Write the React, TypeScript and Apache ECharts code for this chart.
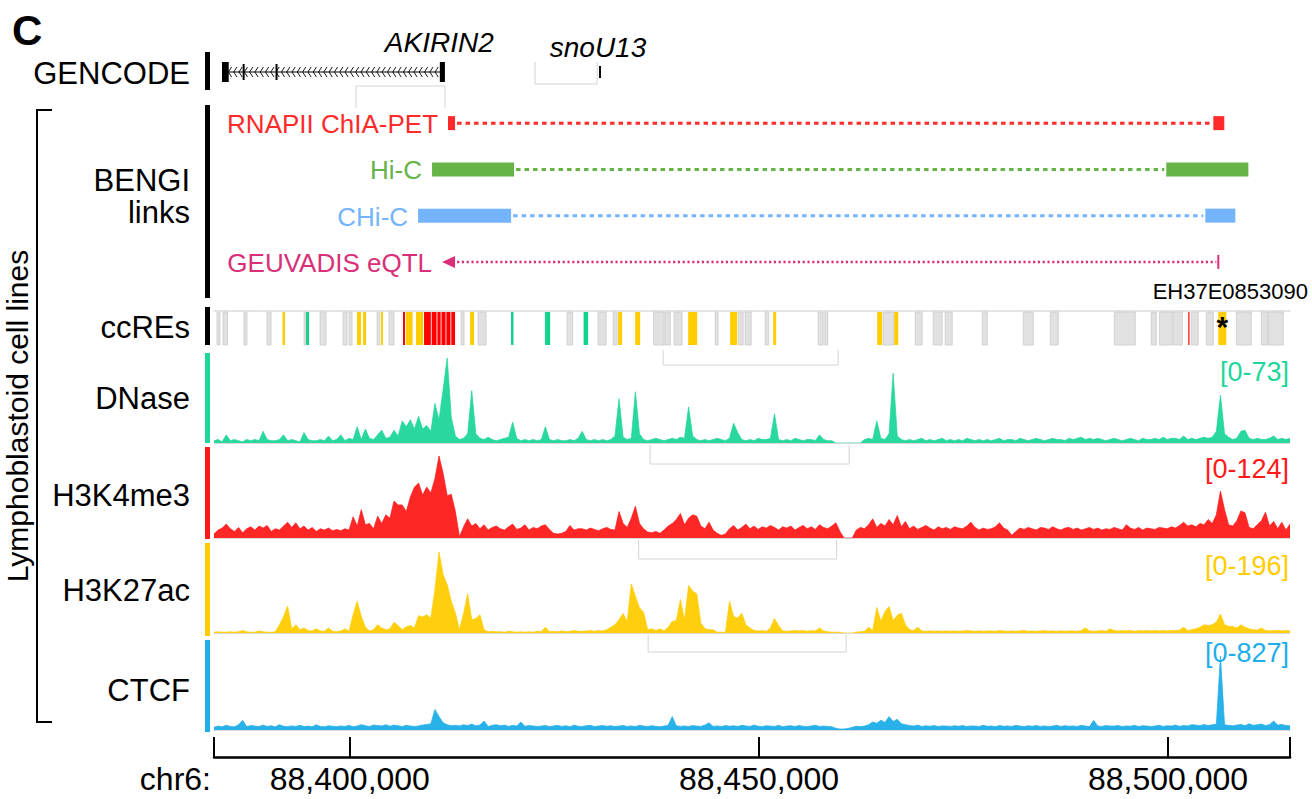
import React, { useEffect, useRef } from "react";
import * as echarts from "echarts";

const FONT = '"Liberation Sans", "Helvetica Neue", Arial, sans-serif';

// Visible window on chr6, in kilobases
const VIEW_START = 88383.4;
const VIEW_END = 88514.9;
const BIN_KB = 0.5;
const AXIS_TICKS_KB = [88400, 88450, 88500];

// Signal tracks (0.5 kb bins starting at VIEW_START)
const trackNames = ["DNase", "H3K4me3", "H3K27ac", "CTCF"];
const trackMax = [73, 124, 196, 827];
const trackColors = ["#1ed699", "#ff1a1a", "#ffcc00", "#1eaee8"];

const dnase = [
  2, 3, 1, 7, 2, 3, 2, 1, 3, 2,
  3, 2, 10, 3, 2, 2, 3, 7, 2, 3,
  2, 1, 9, 3, 2, 2, 3, 2, 6, 2,
  3, 7, 2, 4, 3, 14, 3, 12, 4, 3,
  7, 11, 4, 5, 11, 6, 19, 14, 20, 12,
  23, 12, 15, 10, 34, 20, 46, 73, 22, 6,
  3, 4, 8, 45, 8, 4, 3, 5, 3, 2,
  3, 4, 5, 18, 4, 2, 3, 2, 3, 2,
  3, 14, 3, 2, 3, 2, 2, 3, 2, 4,
  10, 3, 2, 3, 2, 3, 2, 3, 6, 38,
  5, 3, 4, 44, 8, 3, 2, 3, 4, 3,
  2, 3, 4, 3, 5, 4, 31, 6, 3, 2,
  3, 2, 3, 4, 3, 2, 4, 17, 9, 3,
  2, 3, 2, 4, 3, 3, 4, 25, 3, 2,
  3, 2, 4, 3, 2, 3, 3, 2, 7, 3,
  2, 2, 0, 0, 0, 0, 0, 0, 0, 3,
  4, 3, 19, 4, 3, 8, 60, 6, 3, 2,
  3, 2, 3, 4, 2, 3, 2, 3, 4, 2,
  3, 2, 3, 2, 4, 3, 2, 3, 2, 3,
  2, 3, 4, 2, 3, 3, 2, 4, 3, 2,
  3, 4, 3, 2, 3, 4, 3, 3, 2, 4,
  3, 4, 5, 3, 4, 3, 4, 3, 2, 3,
  4, 3, 2, 3, 4, 3, 2, 4, 3, 3,
  4, 3, 5, 3, 4, 4, 3, 6, 3, 4,
  3, 4, 5, 4, 5, 10, 41, 8, 5, 3,
  4, 10, 11, 4, 3, 4, 3, 3, 4, 6,
  3, 4, 3, 4,
];

const h3k4me3 = [
  6, 12, 15, 21, 14, 10, 16, 8, 14, 17,
  12, 18, 15, 19, 10, 14, 12, 18, 24, 16,
  23, 14, 18, 12, 16, 10, 14, 12, 15, 11,
  13, 11, 14, 12, 32, 18, 43, 20, 22, 14,
  33, 22, 35, 30, 56, 50, 50, 40, 62, 77,
  83, 65, 77, 68, 90, 124, 98, 64, 66, 40,
  2, 17, 29, 18, 22, 14, 20, 12, 16, 18,
  14, 12, 17, 21, 13, 15, 20, 12, 16, 14,
  18, 20, 13, 7, 6, 7, 10, 19, 12, 14,
  14, 12, 15, 13, 11, 14, 16, 13, 12, 40,
  22, 16, 30, 48, 22, 14, 9, 8, 10, 7,
  12, 18, 22, 28, 37, 20, 30, 35, 33, 18,
  14, 24, 12, 7, 4, 6, 14, 19, 12, 16,
  21, 14, 18, 13, 17, 15, 19, 16, 12, 17,
  15, 18, 12, 16, 19, 14, 17, 13, 20, 16,
  14, 18, 23, 10, 0, 0, 0, 12, 16, 14,
  20, 29, 16, 22, 18, 28, 20, 34, 17, 25,
  14, 18, 13, 16, 19, 15, 12, 17, 14, 16,
  13, 17, 15, 14, 18, 24, 16, 12, 15, 13,
  14, 17, 23, 15, 12, 4, 10, 15, 13, 16,
  14, 12, 16, 15, 13, 17, 14, 12, 15, 16,
  13, 15, 12, 14, 16, 13, 15, 12, 14, 13,
  16, 14, 12, 20, 15, 13, 16, 12, 15, 14,
  13, 16, 15, 14, 17, 15, 19, 24, 18, 20,
  17, 22, 20, 28, 22, 35, 71, 43, 20, 18,
  26, 41, 38, 16, 14, 20, 26, 39, 18, 25,
  14, 24, 12, 21,
];

const h3k27ac = [
  2, 3, 2, 2, 3, 2, 3, 6, 3, 2,
  2, 5, 3, 2, 2, 3, 20, 40, 65, 10,
  20, 8, 12, 6, 5, 10, 5, 4, 12, 4,
  3, 5, 10, 4, 44, 77, 40, 14, 5, 8,
  20, 12, 8, 10, 26, 18, 8, 15, 18, 12,
  42, 39, 44, 36, 105, 196, 141, 117, 77, 48,
  8, 47, 95, 32, 35, 44, 8, 3, 4, 3,
  3, 2, 4, 3, 2, 3, 2, 3, 2, 4,
  3, 14, 3, 4, 3, 5, 3, 4, 6, 4,
  4, 5, 6, 4, 6, 5, 8, 14, 20, 32,
  47, 28, 119, 89, 61, 50, 8, 10, 6, 10,
  5, 14, 28, 30, 81, 31, 115, 101, 95, 24,
  10, 8, 8, 2, 2, 2, 77, 40, 36, 48,
  20, 12, 6, 5, 6, 4, 12, 35, 18, 5,
  4, 5, 6, 5, 6, 4, 6, 5, 12, 5,
  3, 2, 2, 2, 0, 0, 0, 2, 3, 4,
  14, 6, 62, 28, 52, 64, 30, 43, 48, 20,
  8, 6, 14, 5, 4, 5, 4, 5, 4, 5,
  4, 5, 4, 5, 6, 5, 4, 5, 4, 5,
  5, 4, 6, 5, 4, 5, 4, 5, 6, 4,
  5, 4, 5, 6, 4, 5, 4, 5, 4, 5,
  5, 4, 6, 12, 5, 4, 5, 6, 4, 10,
  6, 5, 6, 5, 6, 4, 6, 5, 6, 5,
  6, 5, 6, 5, 6, 6, 7, 14, 6, 8,
  10, 14, 20, 18, 20, 26, 46, 20, 16, 16,
  12, 20, 14, 10, 8, 7, 12, 6, 5, 6,
  6, 5, 6, 5,
];

const ctcf = [
  30, 45, 36, 52, 40, 35, 60, 108, 38, 50,
  44, 38, 55, 40, 48, 36, 60, 42, 38, 46,
  40, 52, 38, 44, 36, 58, 40, 35, 48, 42,
  38, 46, 40, 52, 36, 44, 60, 48, 40, 55,
  50, 45, 60, 42, 55, 48, 38, 52, 44, 40,
  46, 55, 62, 70, 230, 150, 80, 60, 48, 52,
  45, 58, 50, 66, 48, 55, 100, 40, 52, 60,
  48, 55, 40, 52, 44, 90, 42, 50, 46, 38,
  44, 50, 38, 46, 52, 40, 48, 36, 55, 42,
  40, 48, 52, 38, 45, 50, 42, 48, 38, 44,
  50, 40, 46, 38, 52, 44, 40, 48, 42, 36,
  44, 52, 150, 48, 40, 46, 38, 50, 44, 40,
  55, 80, 40, 46, 38, 50, 42, 48, 40, 52,
  46, 40, 55, 42, 38, 48, 44, 40, 52, 36,
  44, 48, 40, 50, 42, 38, 46, 52, 40, 44,
  40, 36, 20, 10, 12, 18, 30, 42, 38, 44,
  60, 90, 75, 110, 85, 150, 95, 120, 70, 60,
  50, 44, 55, 40, 48, 42, 50, 38, 46, 44,
  40, 48, 42, 50, 38, 46, 44, 40, 52, 42,
  44, 38, 50, 42, 46, 40, 52, 44, 38, 48,
  42, 50, 40, 46, 38, 44, 52, 40, 48, 42,
  46, 40, 52, 44, 38, 108, 46, 40, 50, 44,
  44, 50, 38, 46, 42, 52, 40, 48, 44, 38,
  46, 52, 40, 48, 44, 55, 42, 50, 46, 60,
  55, 48, 62, 50, 58, 66, 827, 60, 52, 48,
  55, 62, 48, 70, 52, 58, 66, 50, 60, 100,
  55, 62, 50, 48,
];

const signals = [dnase, h3k4me3, h3k27ac, ctcf];

// GENCODE gene models (kb)
const geneName = "AKIRIN2";
const geneSpan = [88384.5, 88411.55];
const geneExons = [
  [88384.38, 88385.2],
  [88386.9, 88387.1],
  [88390.92, 88391.12],
  [88411.0, 88411.62],
];
const snoName = "snoU13";
const snoSpan = [88430.45, 88430.62];

// BENGI links: anchor near the gene, anchor at the enhancer
const linkNames = ["RNAPII ChIA-PET", "Hi-C", "CHi-C", "GEUVADIS eQTL"];
const linkColors = ["#ff2b2b", "#66b347", "#74b4fd", "#d82f78"];
const linkA = [
  [88412.0, 88412.86],
  [88410.05, 88420.07],
  [88408.34, 88419.71],
  [88411.27, 88411.27],
];
const linkB = [
  [88505.53, 88506.87],
  [88499.78, 88509.81],
  [88504.55, 88508.22],
  [88506.14, 88506.14],
];

// ccREs: start kb, end kb, class (0 other, 1 enhancer-like, 2 CTCF-only, 3 promoter-like)
const ccreColors = ["#e1e1e1", "#ffcd00", "#12d28c", "#ff0000"];
const ccres = [
  [88383.77, 88384.13, 0], [88384.5, 88385.05, 0], [88387.07, 88387.43, 0],
  [88389.88, 88390.37, 0], [88391.77, 88392.08, 1], [88394.4, 88394.65, 0],
  [88394.65, 88395.01, 2], [88396.36, 88397.09, 0], [88399.17, 88399.66, 0],
  [88399.9, 88400.27, 0], [88400.88, 88401.37, 1], [88401.62, 88401.98, 1],
  [88403.33, 88403.69, 0], [88403.82, 88404.06, 1], [88404.79, 88405.4, 0],
  [88406.5, 88406.75, 3], [88406.87, 88407.67, 1], [88408.09, 88408.95, 1],
  [88409.07, 88409.9, 3], [88410.0, 88410.6, 3], [88410.7, 88411.1, 3],
  [88411.2, 88411.7, 3], [88411.8, 88412.3, 3], [88412.4, 88412.86, 3],
  [88413.6, 88413.96, 0], [88414.7, 88415.18, 1], [88415.67, 88416.65, 0],
  [88419.7, 88420.0, 2], [88423.86, 88424.48, 2], [88426.55, 88427.23, 0],
  [88428.57, 88429.12, 2], [88430.34, 88431.32, 0], [88432.18, 88432.67, 0],
  [88432.79, 88433.28, 1], [88434.87, 88435.48, 1], [88437.13, 88438.41, 0],
  [88438.53, 88439.15, 0], [88439.63, 88440.61, 0], [88441.35, 88442.45, 1],
  [88444.65, 88445.01, 0], [88446.48, 88447.34, 1], [88447.52, 88448.07, 0],
  [88448.31, 88449.05, 0], [88450.76, 88451.19, 0], [88451.74, 88452.1, 1],
  [88457.24, 88457.85, 0], [88458.05, 88458.4, 0], [88464.45, 88465.06, 1],
  [88465.18, 88466.48, 0], [88466.53, 88467.02, 1], [88469.1, 88469.95, 0],
  [88471.3, 88472.4, 0], [88472.76, 88473.62, 0], [88477.29, 88477.9, 0],
  [88482.3, 88483.52, 0], [88485.6, 88486.58, 0], [88493.42, 88495.99, 0],
  [88497.95, 88498.56, 0], [88498.93, 88500.51, 0], [88500.64, 88501.74, 0],
  [88502.47, 88502.59, 3], [88502.84, 88503.69, 0], [88504.67, 88505.53, 0],
  [88506.14, 88507.12, 1], [88508.34, 88510.17, 0], [88511.4, 88512.13, 0],
  [88512.25, 88514.08, 0],
];
const linkedCcreId = "EH37E0853090";
const linkedCcreKb = 88506.63;

// Label-placement guides left by the browser (kb spans)
const guideSpans = [
  [88400.76, 88411.64],
  [88422.64, 88430.22],
  [88438.29, 88459.68],
  [88436.7, 88461.03],
  [88435.3, 88459.5],
  [88436.46, 88460.66],
];
const guideRows = [
  { y0: 86, y1: 108, open: "bottom" },
  { y0: 62, y1: 84, open: "top" },
  { y0: 350, y1: 365, open: "top" },
  { y0: 445, y1: 464, open: "top" },
  { y0: 540, y1: 559, open: "top" },
  { y0: 635, y1: 652, open: "top" },
];

const GRID_LAYOUT = [
  { top: 50, height: 50 }, // GENCODE
  { top: 100, height: 185 }, // BENGI links
  { top: 311, height: 34 }, // ccREs
  { top: 358, height: 85 }, // DNase
  { top: 456, height: 82 }, // H3K4me3
  { top: 552, height: 81 }, // H3K27ac
  { top: 656, height: 74 }, // CTCF
  { top: 727, height: 30 }, // coordinate ruler
];

const sideBars = [
  { y0: 52, y1: 90, color: "#000" },
  { y0: 105, y1: 298, color: "#000" },
  { y0: 307, y1: 345, color: "#000" },
  { y0: 353, y1: 443, color: trackColors[0] },
  { y0: 447, y1: 539, color: trackColors[1] },
  { y0: 543, y1: 636, color: trackColors[2] },
  { y0: 640, y1: 732, color: trackColors[3] },
];

const rowLabels = [
  { text: "GENCODE", y: 73 },
  { text: "BENGI", y: 180 },
  { text: "links", y: 212 },
  { text: "ccREs", y: 327 },
  { text: trackNames[0], y: 398 },
  { text: trackNames[1], y: 495 },
  { text: trackNames[2], y: 590 },
  { text: trackNames[3], y: 690 },
];
const rangeLabelY = [372, 469, 566, 653];

function formatBp(kb: number) {
  return Math.round(kb * 1000).toLocaleString("en-US");
}

function buildOption(): any {
  const grid = GRID_LAYOUT.map((g) => ({ ...g, left: 214, right: 22 }));

  const xAxis = GRID_LAYOUT.map((_, i) => {
    const ax: any = {
      gridIndex: i,
      type: "value",
      min: VIEW_START,
      max: VIEW_END,
      splitLine: { show: false },
      axisTick: { show: false },
      axisLabel: { show: false },
      axisLine: { show: false },
    };
    if (i === 2) {
      ax.position = "top";
      ax.axisLine = { show: true, onZero: false, lineStyle: { color: "#dcdcdc", width: 1.5 } };
    }
    if (i >= 3 && i <= 6) {
      ax.axisLine = { show: true, onZero: false, lineStyle: { color: "#dadada", width: 1 } };
    }
    if (i === 7) {
      ax.position = "bottom";
      ax.axisLine = { show: true, onZero: false, lineStyle: { color: "#000", width: 2.5 } };
      ax.axisTick = {
        show: true,
        inside: true,
        length: 20,
        lineStyle: { color: "#000", width: 2 },
        customValues: [VIEW_START, ...AXIS_TICKS_KB, VIEW_END],
      };
      ax.axisLabel = {
        show: true,
        customValues: AXIS_TICKS_KB,
        formatter: (v: number) => formatBp(v),
        fontSize: 32,
        fontFamily: FONT,
        color: "#000",
        margin: 6,
      };
    }
    return ax;
  });

  const yAxis = GRID_LAYOUT.map((_, i) => {
    if (i === 1) return { gridIndex: 1, type: "category", data: linkNames, inverse: true, show: false };
    if (i >= 3 && i <= 6) return { gridIndex: i, type: "value", min: 0, max: trackMax[i - 3], show: false };
    return { gridIndex: i, type: "value", min: 0, max: 1, show: false };
  });

  const series: any[] = [];

  // Gene models
  series.push({
    type: "custom",
    xAxisIndex: 0,
    yAxisIndex: 0,
    silent: true,
    data: [[geneSpan[0], 0.5]],
    renderItem: (_p: any, api: any) => {
      const px = (kb: number) => api.coord([kb, 0])[0];
      const y = 72;
      const x0 = px(geneSpan[0]);
      const x1 = px(geneSpan[1]);
      const children: any[] = [
        { type: "line", shape: { x1: x0, y1: y, x2: x1, y2: y }, style: { stroke: "#000", lineWidth: 1.2 } },
      ];
      for (let cx = x0 + 6; cx < x1 - 4; cx += 5.3) {
        children.push({
          type: "polyline",
          shape: { points: [[cx + 2.6, y - 5], [cx - 0.6, y], [cx + 2.6, y + 5]] },
          style: { stroke: "#000", fill: "none", lineWidth: 0.9 },
        });
      }
      geneExons.forEach(([s, e]) => {
        const a = px(s);
        const w = Math.max(px(e) - a, 2);
        const tall = w > 3;
        children.push({
          type: "rect",
          shape: { x: a, y: tall ? 62 : 64, width: w, height: tall ? 20 : 16 },
          style: { fill: "#000" },
        });
      });
      const sx = px(snoSpan[0]);
      children.push({
        type: "rect",
        shape: { x: sx, y: 66, width: Math.max(px(snoSpan[1]) - sx, 2), height: 12 },
        style: { fill: "#000" },
      });
      children.push({
        type: "text",
        x: x1 - 5,
        y: 42,
        style: { text: geneName, fill: "#000", fontSize: 28, fontStyle: "italic", fontFamily: FONT, textAlign: "center", textVerticalAlign: "middle" },
      });
      children.push({
        type: "text",
        x: sx - 1,
        y: 47,
        style: { text: snoName, fill: "#000", fontSize: 28, fontStyle: "italic", fontFamily: FONT, textAlign: "center", textVerticalAlign: "middle" },
      });
      return { type: "group", children };
    },
  });

  // Guides
  series.push({
    type: "custom",
    xAxisIndex: 0,
    yAxisIndex: 0,
    silent: true,
    z: 1,
    data: guideSpans.map((s) => [s[0], 0.5]),
    renderItem: (p: any, api: any) => {
      const [s, e] = guideSpans[p.dataIndex];
      const row = guideRows[p.dataIndex];
      const a = api.coord([s, 0])[0];
      const b = api.coord([e, 0])[0];
      const flat = row.open === "top" ? row.y1 : row.y0;
      const tip = row.open === "top" ? row.y0 : row.y1;
      return {
        type: "polyline",
        shape: { points: [[a, tip], [a, flat], [b, flat], [b, tip]] },
        style: { stroke: "#d4d4d4", fill: "none", lineWidth: 1 },
      };
    },
  });

  // BENGI links
  series.push({
    type: "custom",
    xAxisIndex: 1,
    yAxisIndex: 1,
    silent: true,
    data: linkNames.map((_, i) => [linkA[i][0], i]),
    renderItem: (p: any, api: any) => {
      const i = p.dataIndex;
      const color = linkColors[i];
      const y = api.coord([linkA[i][0], i])[1];
      const px = (kb: number) => api.coord([kb, i])[0];
      const a0 = px(linkA[i][0]);
      const a1 = px(linkA[i][1]);
      const b0 = px(linkB[i][0]);
      const b1 = px(linkB[i][1]);
      const children: any[] = [];
      const isEqtl = linkA[i][0] === linkA[i][1];
      if (!isEqtl) {
        children.push({ type: "rect", shape: { x: a0, y: y - 7, width: Math.max(a1 - a0, 6), height: 14 }, style: { fill: color } });
        children.push({ type: "rect", shape: { x: b0, y: y - 7, width: Math.max(b1 - b0, 6), height: 14 }, style: { fill: color } });
        children.push({
          type: "line",
          shape: { x1: Math.max(a1, a0 + 6) + 2, y1: y, x2: b0 - 2, y2: y },
          style: { stroke: color, lineWidth: 3, lineDash: [4.5, 4] },
        });
      } else {
        children.push({
          type: "polygon",
          shape: { points: [[a0, y], [a0 + 13, y - 6], [a0 + 13, y + 6]] },
          style: { fill: color },
        });
        children.push({
          type: "line",
          shape: { x1: a0 + 15, y1: y, x2: b0 - 2, y2: y },
          style: { stroke: color, lineWidth: 2.5, lineDash: [2.2, 2.6] },
        });
        children.push({ type: "line", shape: { x1: b0, y1: y - 7, x2: b0, y2: y + 7 }, style: { stroke: color, lineWidth: 2 } });
      }
      children.push({
        type: "text",
        x: a0 - 10,
        y: y + 1,
        style: { text: linkNames[i], fill: color, fontSize: 26, fontFamily: FONT, textAlign: "right", textVerticalAlign: "middle" },
      });
      return { type: "group", children };
    },
  });

  // ccREs
  series.push({
    type: "custom",
    xAxisIndex: 2,
    yAxisIndex: 2,
    silent: true,
    data: ccres.map((c) => [c[0], 0.5]),
    renderItem: (p: any, api: any) => {
      const [s, e, t] = ccres[p.dataIndex];
      const cs = p.coordSys;
      const a = api.coord([s, 0])[0];
      const b = api.coord([e, 0])[0];
      return {
        type: "rect",
        shape: { x: a, y: cs.y + 1, width: Math.max(b - a, 1.2), height: cs.height - 1 },
        style: t === 0 ? { fill: ccreColors[t], stroke: "#cbcbcb", lineWidth: 0.8 } : { fill: ccreColors[t] },
      };
    },
  });

  // Linked ccRE marker
  series.push({
    type: "custom",
    xAxisIndex: 2,
    yAxisIndex: 2,
    silent: true,
    z: 5,
    data: [[linkedCcreKb, 0.5]],
    renderItem: (_p: any, api: any) => {
      const x = api.coord([linkedCcreKb, 0])[0];
      return {
        type: "group",
        children: [
          { type: "text", x, y: 326, style: { text: "*", fill: "#000", fontSize: 30, fontWeight: "bold", fontFamily: FONT, textAlign: "center", textVerticalAlign: "middle" } },
          { type: "text", x: x + 8, y: 291, style: { text: linkedCcreId, fill: "#000", fontSize: 22, fontFamily: FONT, textAlign: "center", textVerticalAlign: "middle" } },
        ],
      };
    },
  });

  // Signal tracks
  signals.forEach((vals, k) => {
    series.push({
      type: "line",
      xAxisIndex: k + 3,
      yAxisIndex: k + 3,
      silent: true,
      symbol: "none",
      data: vals.map((v, i) => [VIEW_START + i * BIN_KB, v]),
      lineStyle: { color: trackColors[k], width: 0.7 },
      areaStyle: { color: trackColors[k], opacity: 0.95 },
      clip: true,
    });
  });

  const graphic: any[] = [];
  graphic.push({
    type: "text",
    x: 12,
    y: 30,
    style: { text: "C", fill: "#000", fontSize: 42, fontWeight: "bold", fontFamily: FONT, textVerticalAlign: "middle" },
  });
  rowLabels.forEach((l) => {
    graphic.push({
      type: "text",
      x: 190,
      y: l.y,
      style: { text: l.text, fill: "#000", fontSize: 31, fontFamily: FONT, textAlign: "right", textVerticalAlign: "middle" },
    });
  });
  sideBars.forEach((b) => {
    graphic.push({ type: "rect", shape: { x: 205, y: b.y0, width: 5, height: b.y1 - b.y0 }, style: { fill: b.color } });
  });
  trackMax.forEach((m, k) => {
    graphic.push({
      type: "text",
      x: 1289,
      y: rangeLabelY[k],
      style: { text: `[0-${m}]`, fill: trackColors[k], fontSize: 27, fontFamily: FONT, textAlign: "right", textVerticalAlign: "middle" },
    });
  });
  graphic.push({
    type: "polyline",
    shape: { points: [[52, 110], [37, 110], [37, 722], [52, 722]] },
    style: { stroke: "#000", fill: "none", lineWidth: 2 },
  });
  graphic.push({
    type: "text",
    x: 17,
    y: 416,
    rotation: Math.PI / 2,
    style: { text: "Lymphoblastoid cell lines", fill: "#000", fontSize: 30, fontFamily: FONT, textAlign: "center", textVerticalAlign: "middle" },
  });
  graphic.push({
    type: "text",
    x: 211,
    y: 779,
    style: { text: "chr6:", fill: "#000", fontSize: 32, fontFamily: FONT, textAlign: "right", textVerticalAlign: "middle" },
  });

  return {
    animation: false,
    backgroundColor: "#fff",
    textStyle: { fontFamily: FONT },
    grid,
    xAxis,
    yAxis,
    series,
    graphic,
  };
}

export default function App() {
  const ref = useRef<HTMLDivElement>(null);
  useEffect(() => {
    const chart = echarts.init(ref.current!, null, { renderer: "svg" });
    chart.setOption(buildOption());
    return () => chart.dispose();
  }, []);
  return (
    <div
      ref={ref}
      style={{ position: "fixed", left: 0, top: 0, width: 1312, height: 799, background: "#fff" }}
    />
  );
}
